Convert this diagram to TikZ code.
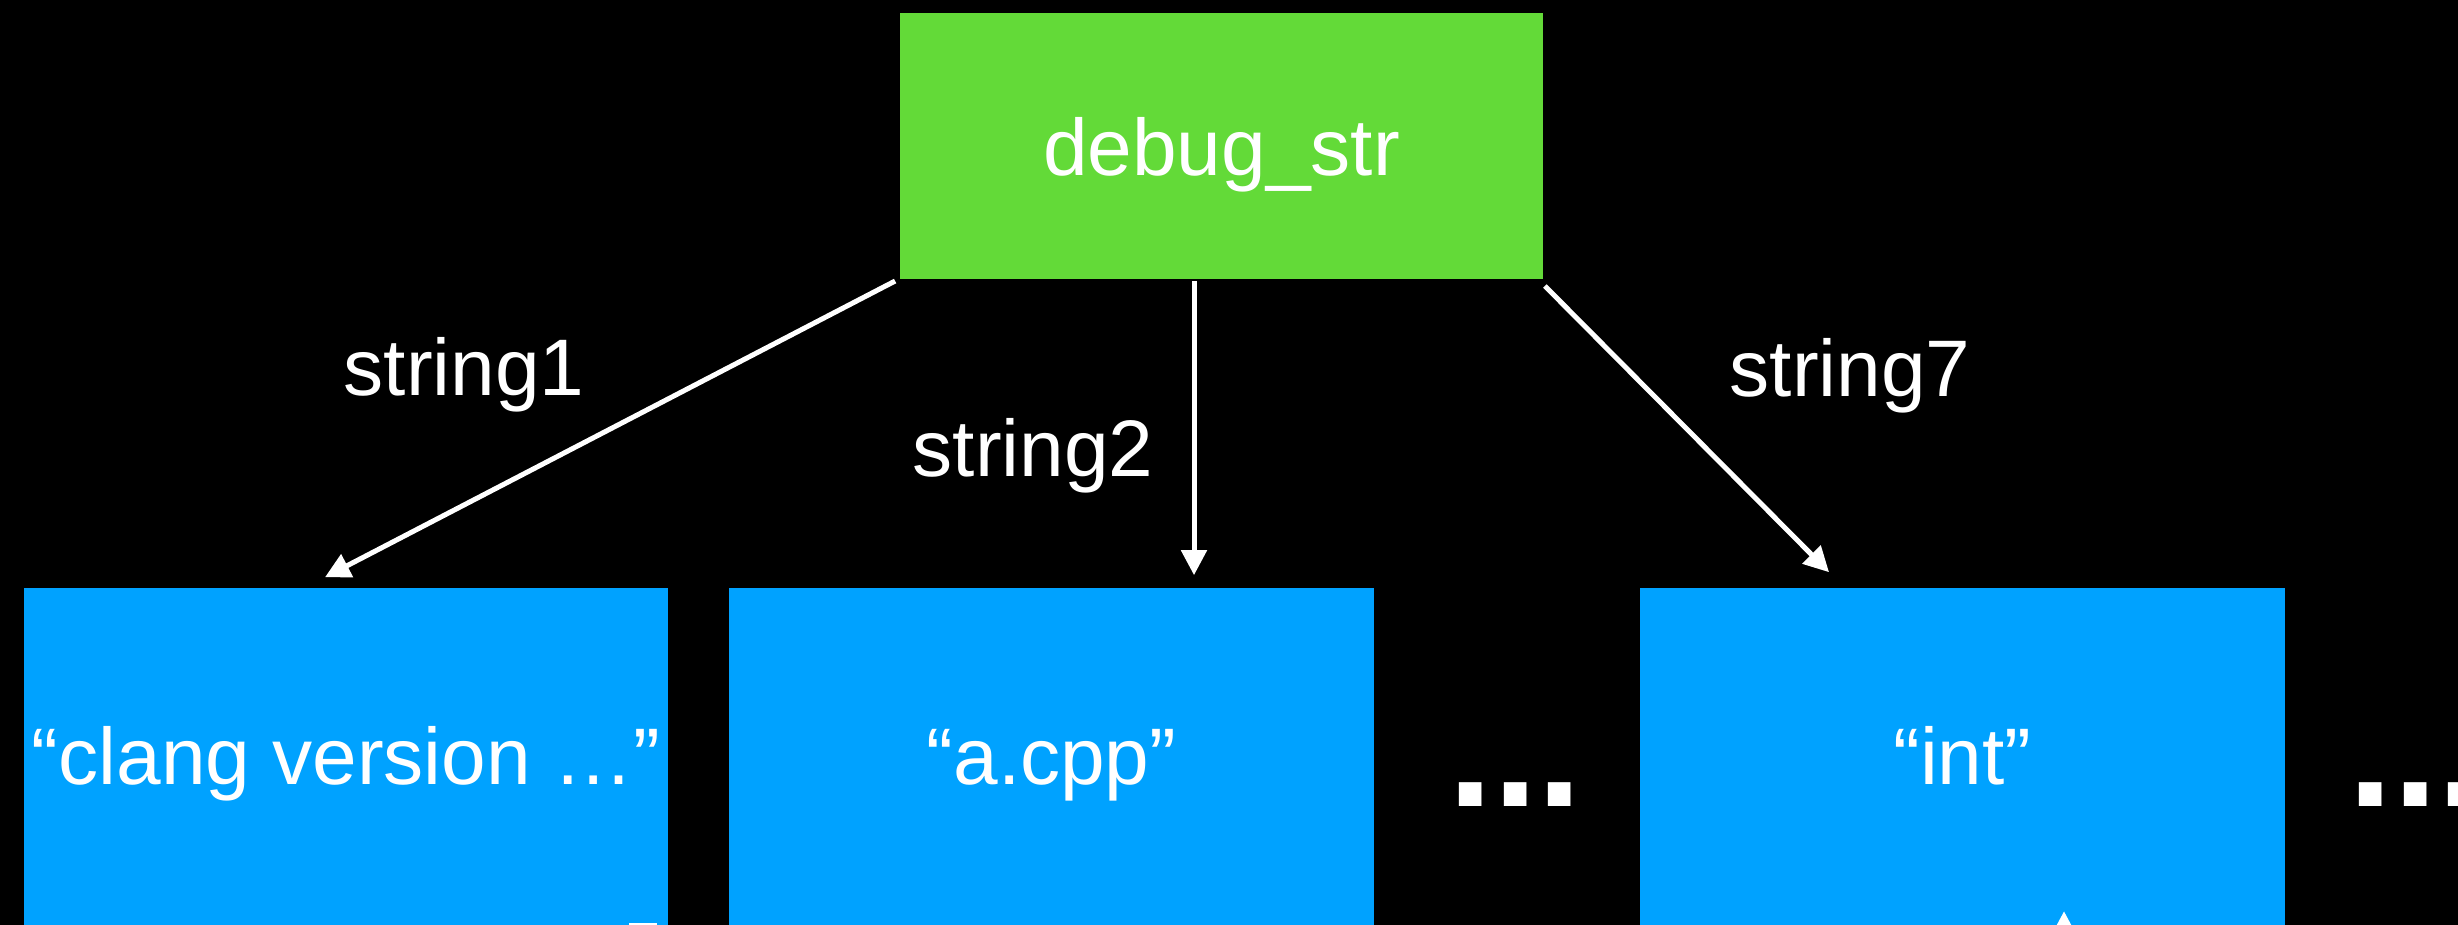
\documentclass[tikz,border=0pt]{standalone}
\usepackage{fontspec}
\setmainfont{Liberation Sans}
\usetikzlibrary{arrows.meta,calc}
\definecolor{boxgreen}{RGB}{99,218,56}
\definecolor{boxblue}{RGB}{0,162,255}

\begin{document}
\begin{tikzpicture}[x=0.01cm,y=-0.01cm,
  every node/.style={text=white,font=\fontsize{22.8}{27}\selectfont},
  hdr/.style={fill=boxgreen, minimum width=6.43cm, minimum height=2.665cm,
    inner sep=0pt, text height=0.72cm, text depth=0.14cm},
  entry/.style={fill=boxblue, minimum width=6.44cm, minimum height=3.48cm,
    inner sep=0pt, text height=0.58cm, text depth=0.14cm},
  lbl/.style={anchor=base, inner sep=0pt},
  link/.style={draw=white, line width=1.42pt,
    -{Triangle[width=0.25cm,length=0.25cm]}},
  more/.style={anchor=base west, inner sep=0pt,
    font=\fontsize{45.5}{50}\selectfont\bfseries}]

  % canvas
  \useasboundingbox (0,0) rectangle (2458,925);
  \fill[black] (0,0) rectangle (2458,925);
  \clip (0,0) rectangle (2458,925);

  % section header and string entries
  \node[hdr]   (sec) at (1221.5,146) {debug\_str};
  \node[entry] (s1)  at (346,762)    {“clang version …”};
  \node[entry] (s2)  at (1051.5,762) {“a.cpp”};
  \node[entry] (s7)  at (1962.5,762) {“int”};

  % ellipses for omitted entries
  \node[more] (gap1) at (1448,806) {...};
  \node[more] (gap2) at (2348,806) {...};

  % pointers from the section to its strings
  \coordinate (p1a) at ($(sec.south west)+(-4,1)$);
  \coordinate (p1b) at ($(s1.north)+(-21,-10)$);
  \coordinate (p2a) at ($(sec.south)+(-27.5,1)$);
  \coordinate (p2b) at ($(s2.north)+(142.5,-12)$);
  \coordinate (p7a) at ($(sec.south east)+(1,6)$);
  \coordinate (p7b) at ($(s7.north)+(-133.5,-15)$);
  \draw[link] (p1a) -- (p1b);
  \draw[link] (p2a) -- (p2b);
  \draw[link] (p7a) -- (p7b);

  \node[lbl] (l1) at (464,396)  {string1};
  \node[lbl] (l2) at (1033,477) {string2};
  \node[lbl] (l7) at (1850,397) {string7};

  % references coming in from below
  \coordinate (q1) at ($(s7.north)+(101.5,324)$);
  \coordinate (q0) at ($(s7.north)+(101.5,450)$);
  \draw[link] (q0) -- (q1);
  \fill[white] (629,923) rectangle (657,926);
\end{tikzpicture}
\end{document}
